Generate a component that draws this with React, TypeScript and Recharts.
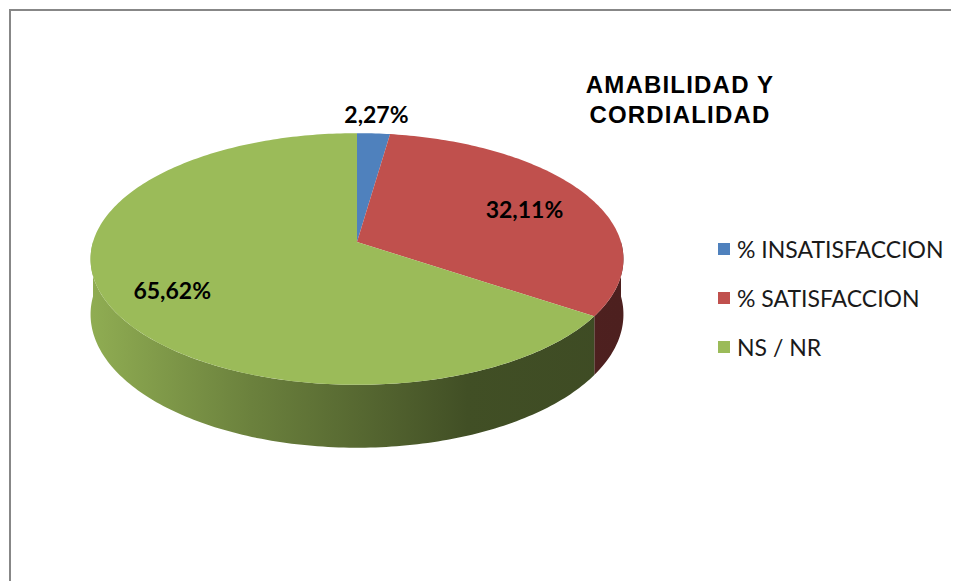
import React from "react";
import { PieChart, Pie, Legend } from "recharts";

const categories = ["% INSATISFACCION", "% SATISFACCION", "NS / NR"];
const shares = [2.27, 32.11, 65.62];
const sliceColors = ["#4f81bd", "#c0504d", "#9bbb59"];
const titleLines = ["AMABILIDAD Y", "CORDIALIDAD"];

const data = categories.map((name, i) => ({ name, value: shares[i], fill: sliceColors[i] }));

// fake 3d: perspective squash + side wall
const TILT = 0.468;
const PERSP = 0.135;
const DEPTH = 0.206;
const RAD = Math.PI / 180;

function proj(cx: number, cy: number, r: number, deg: number, f = 1) {
  const c = Math.cos(deg * RAD) * f;
  const s = Math.sin(deg * RAD) * f;
  const d = 1 + PERSP * s;
  return { x: cx + (r * c) / d, y: cy - (r * TILT * s) / d, d };
}

function shade(hex: string, k: number) {
  const n = parseInt(hex.slice(1), 16);
  const ch = [(n >> 16) & 255, (n >> 8) & 255, n & 255].map((v) => Math.round(v * k));
  return `rgb(${ch.join(",")})`;
}

function arcPts(cx: number, cy: number, r: number, a: number, b: number) {
  const pts = [];
  const steps = Math.max(2, Math.ceil(Math.abs(a - b)));
  for (let i = 0; i <= steps; i++) {
    pts.push(proj(cx, cy, r, a + ((b - a) * i) / steps));
  }
  return pts;
}

function Slice3D(props: any) {
  const { cx, cy, outerRadius, startAngle, endAngle, fill } = props;
  const gid = "wall" + String(fill).replace("#", "");
  const h0 = outerRadius * DEPTH;
  const walls: string[] = [];
  for (const shift of [-360, 0, 360]) {
    const hi = Math.min(startAngle, shift);
    const lo = Math.max(endAngle, -180 + shift);
    if (lo < hi) {
      const top = arcPts(cx, cy, outerRadius, hi, lo);
      const bottom = top.map((p) => ({ x: p.x, y: p.y + h0 / p.d })).reverse();
      walls.push("M" + [...top, ...bottom].map((p) => `${p.x},${p.y}`).join("L") + "Z");
    }
  }
  const rim = arcPts(cx, cy, outerRadius, startAngle, endAngle);
  const topPath = `M${cx},${cy}L` + rim.map((p) => `${p.x},${p.y}`).join("L") + "Z";
  return (
    <g>
      <defs>
        <linearGradient id={gid} gradientUnits="userSpaceOnUse" x1={cx - outerRadius} x2={cx + outerRadius} y1={0} y2={0}>
          <stop offset="0" stopColor={shade(fill, 0.92)} />
          <stop offset="0.3" stopColor={shade(fill, 0.69)} />
          <stop offset="0.58" stopColor={shade(fill, 0.51)} />
          <stop offset="0.71" stopColor={shade(fill, 0.42)} />
          <stop offset="1" stopColor={shade(fill, 0.4)} />
        </linearGradient>
      </defs>
      {walls.map((d, i) => (
        <path key={i} d={d} fill={`url(#${gid})`} stroke="none" />
      ))}
      <path d={topPath} fill={fill} stroke="none" />
    </g>
  );
}

function renderLabel(props: any) {
  const { cx, cy, outerRadius, midAngle, percent, value } = props;
  const outside = percent < 0.05;
  const p = proj(cx, cy, outerRadius, midAngle, outside ? 1.2 : 0.74);
  return (
    <text
      x={outside ? p.x : p.x - 4}
      y={outside ? p.y - 1 : p.y + 3}
      textAnchor="middle"
      dominantBaseline="central"
      fontFamily="Lato, 'Noto Sans', sans-serif"
      fontWeight="bold"
      fontSize={23}
      fill="#000"
    >
      {value.toFixed(2).replace(".", ",")}%
    </text>
  );
}

function LegendBox({ payload }: any) {
  return (
    <div>
      {(payload || []).map((item: any) => (
        <div key={item.value} style={{ display: "flex", alignItems: "center", height: 49 }}>
          <span style={{ width: 12, height: 12, background: item.color, marginRight: 7 }} />
          <span style={{ fontFamily: "Lato, sans-serif", fontSize: 23, color: "#1a1a1a" }}>{item.value}</span>
        </div>
      ))}
    </div>
  );
}

export default function App() {
  return (
    <div style={{ position: "absolute", left: 0, top: 0, width: 956, height: 583, overflow: "hidden", background: "#fff" }}>
      <div
        style={{
          position: "absolute",
          left: 9,
          top: 9,
          width: 940,
          height: 570,
          borderLeft: "2px solid #878787",
          borderTop: "2px solid #878787",
        }}
      />
      <div
        style={{
          position: "absolute",
          left: 560,
          top: 70,
          width: 240,
          textAlign: "center",
          fontFamily: "'Liberation Sans', Arial, sans-serif",
          fontWeight: "bold",
          fontSize: 24,
          letterSpacing: 1.2,
          lineHeight: "30px",
          color: "#000",
        }}
      >
        {titleLines.map((t) => (
          <div key={t}>{t}</div>
        ))}
      </div>
      <PieChart width={956} height={583} margin={{ top: 0, right: 0, bottom: 0, left: 0 }}>
        <Pie
          data={data}
          dataKey="value"
          nameKey="name"
          cx={357}
          cy={242}
          outerRadius={264}
          startAngle={90}
          endAngle={-270}
          stroke="none"
          shape={Slice3D}
          inactiveShape={Slice3D}
          activeShape={Slice3D}
          label={renderLabel}
          labelLine={false}
          isAnimationActive={false}
        />
        <Legend
          layout="vertical"
          align="right"
          verticalAlign="top"
          content={<LegendBox />}
          wrapperStyle={{ position: "absolute", left: 718, top: 224, width: 240 }}
        />
      </PieChart>
    </div>
  );
}
